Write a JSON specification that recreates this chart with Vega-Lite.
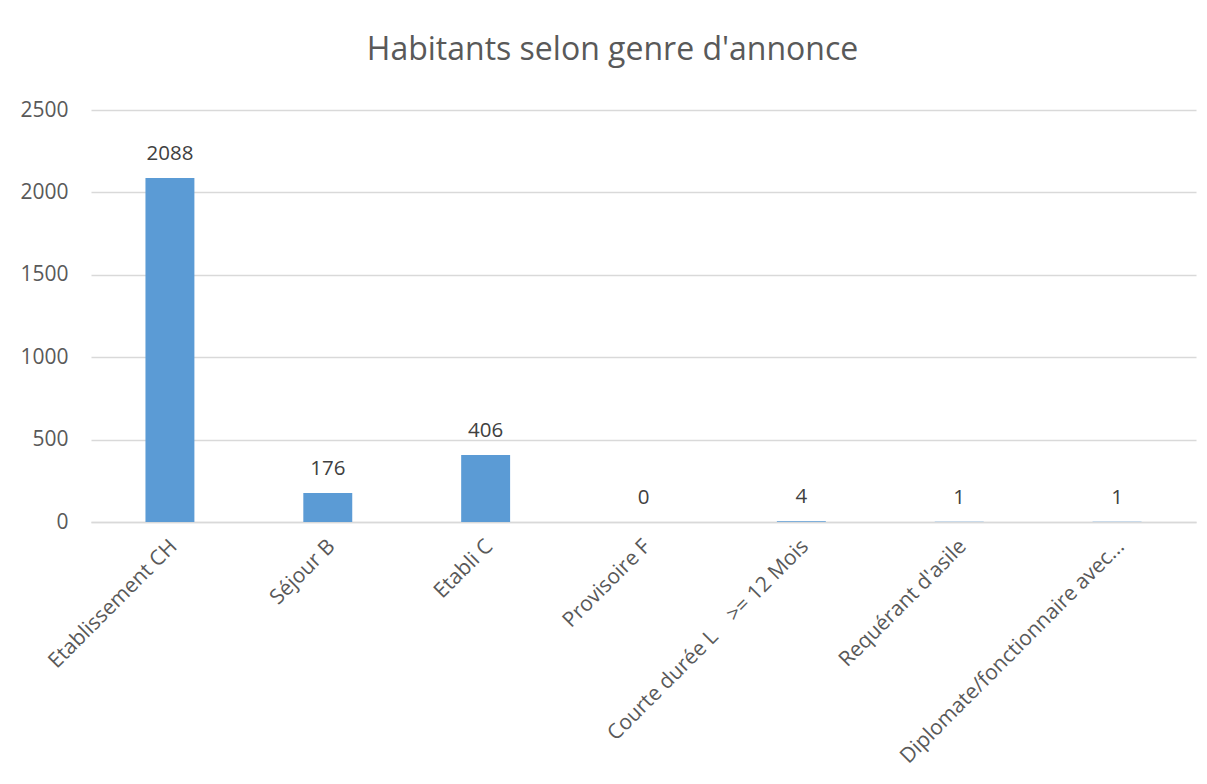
{
  "$schema": "https://vega.github.io/schema/vega-lite/v6.json",
  "width": 1105,
  "height": 412,
  "autosize": {"type": "none"},
  "padding": {"left": 91, "top": 110, "right": 11, "bottom": 262},
  "background": "white",
  "title": {
    "text": "Habitants selon genre d'annonce",
    "font": "Open Sans",
    "fontSize": 32,
    "fontWeight": "normal",
    "color": "#595959",
    "anchor": "middle",
    "dx": -31,
    "offset": 32
  },
  "config": {
    "view": {"stroke": null},
    "font": "Open Sans"
  },
  "data": {
    "values": [
      {"genre": "Etablissement CH", "n": 2088},
      {"genre": "Séjour B", "n": 176},
      {"genre": "Etabli C", "n": 406},
      {"genre": "Provisoire F", "n": 0},
      {"genre": "Courte durée L\u00a0\u00a0\u00a0\u00a0>= 12 Mois", "n": 4},
      {"genre": "Requérant d'asile", "n": 1},
      {"genre": "Diplomate/fonctionnaire avec...", "n": 1}
    ]
  },
  "encoding": {
    "x": {
      "field": "genre",
      "type": "nominal",
      "sort": null,
      "scale": {"paddingInner": 0.69, "paddingOuter": 0.345},
      "axis": {
        "title": null,
        "labelAngle": -45,
        "labelAlign": "right",
        "labelBaseline": "middle",
        "labelFont": "Open Sans",
        "labelFontSize": 21,
        "labelColor": "#595959",
        "labelPadding": 21,
        "labelOffset": 4,
        "labelLimit": 400,
        "ticks": false,
        "domainColor": "#d9d9d9",
        "domainWidth": 1.5
      }
    },
    "y": {
      "field": "n",
      "type": "quantitative",
      "scale": {"domain": [0, 2500], "nice": false},
      "axis": {
        "title": null,
        "format": "d",
        "values": [0, 500, 1000, 1500, 2000, 2500],
        "labelFont": "Open Sans",
        "labelFontSize": 21,
        "labelColor": "#595959",
        "labelPadding": 23,
        "ticks": false,
        "domain": false,
        "gridColor": "#d9d9d9",
        "gridWidth": 1.5
      }
    }
  },
  "layer": [
    {"mark": {"type": "bar", "color": "#5b9bd5"}},
    {
      "mark": {
        "type": "text",
        "baseline": "middle",
        "dy": -24,
        "font": "Open Sans",
        "fontSize": 20.5,
        "color": "#404040"
      },
      "encoding": {"text": {"field": "n", "type": "quantitative"}}
    }
  ]
}
